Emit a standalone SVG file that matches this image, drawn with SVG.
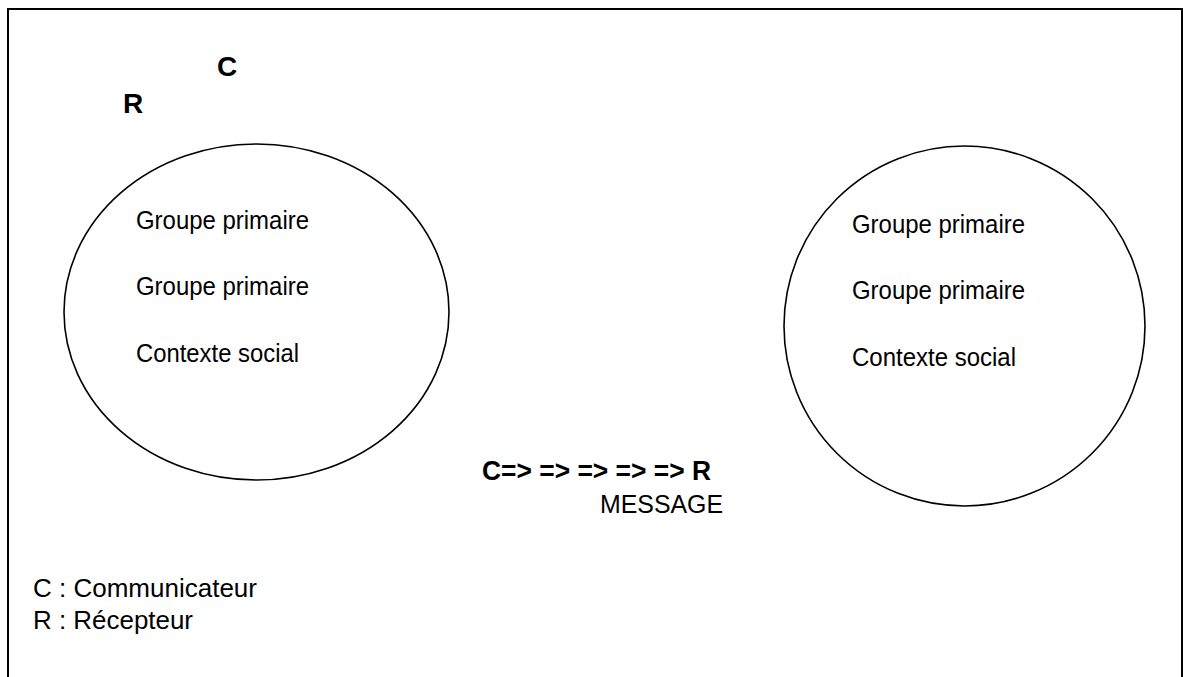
<svg xmlns="http://www.w3.org/2000/svg" width="1183" height="677" viewBox="0 0 1183 677">
<style>
.t{font-family:"Liberation Sans",Arial,sans-serif;font-size:25px;fill:#000}
.b{font-family:"Liberation Sans",Arial,sans-serif;font-weight:bold;fill:#000}
.shape{fill:none;stroke:#000;stroke-width:1.6}
</style>
<rect x="8" y="9" width="1174" height="720" fill="#fff" stroke="#000" stroke-width="2"/>
<g id="labels-top">
<text class="b" x="217" y="76" font-size="28">C</text>
<text class="b" x="123" y="113" font-size="28">R</text>
</g>
<g id="group-left">
<ellipse class="shape" cx="256.5" cy="312" rx="192.5" ry="168"/>
<text class="t" x="136" y="229" textLength="173" lengthAdjust="spacingAndGlyphs">Groupe primaire</text>
<text class="t" x="136" y="295" textLength="173" lengthAdjust="spacingAndGlyphs">Groupe primaire</text>
<text class="t" x="136" y="362" textLength="163" lengthAdjust="spacingAndGlyphs">Contexte social</text>
</g>
<g id="group-right">
<ellipse class="shape" cx="964.5" cy="326" rx="180.5" ry="180"/>
<text class="t" x="852" y="233" textLength="173" lengthAdjust="spacingAndGlyphs">Groupe primaire</text>
<text class="t" x="852" y="299" textLength="173" lengthAdjust="spacingAndGlyphs">Groupe primaire</text>
<text class="t" x="852" y="366" textLength="164" lengthAdjust="spacingAndGlyphs">Contexte social</text>
</g>
<g id="connectors"></g>
<g id="message">
<text class="b" x="482" y="480" font-size="27" textLength="229" lengthAdjust="spacingAndGlyphs">C=&gt; =&gt; =&gt; =&gt; =&gt; R</text>
<text class="t" x="600" y="513" font-size="26" textLength="123" lengthAdjust="spacingAndGlyphs">MESSAGE</text>
</g>
<g id="legend">
<text class="t" x="33" y="597" font-size="27" textLength="224" lengthAdjust="spacingAndGlyphs">C : Communicateur</text>
<text class="t" x="33" y="629" font-size="27" textLength="160" lengthAdjust="spacingAndGlyphs">R : Récepteur</text>
</g>
</svg>
